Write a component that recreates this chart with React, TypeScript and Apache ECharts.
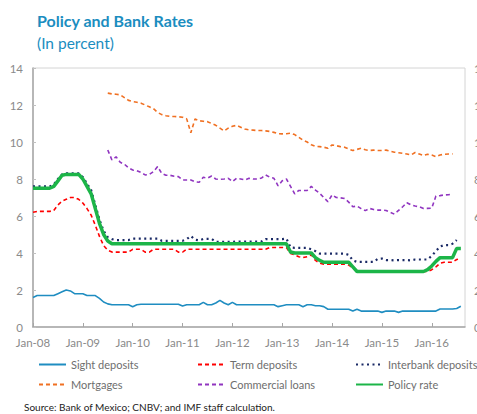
import React, { useEffect, useRef } from "react";
import * as echarts from "echarts";

const monthNames = ["Jan","Feb","Mar","Apr","May","Jun","Jul","Aug","Sep","Oct","Nov","Dec"];
const years = ["08","09","10","11","12","13","14","15","16"];
const categories: string[] = [];
years.forEach((y) => monthNames.forEach((m) => categories.push(`${m}-${y}`)));
categories.splice(105);

const sightDeposits = [
  1.6,1.7,1.7,1.7,1.7,1.7,1.8,1.9,2.0,1.95,1.8,1.8,
  1.8,1.7,1.7,1.7,1.55,1.35,1.25,1.2,1.2,1.2,1.2,1.2,
  1.1,1.2,1.23,1.23,1.23,1.23,1.23,1.23,1.23,1.23,1.23,1.23,
  1.13,1.2,1.2,1.2,1.2,1.33,1.2,1.2,1.3,1.44,1.3,1.2,
  1.33,1.2,1.2,1.2,1.2,1.2,1.2,1.2,1.2,1.2,1.2,1.1,
  1.15,1.2,1.2,1.2,1.2,1.1,1.2,1.2,1.15,1.15,1.1,0.96,
  0.96,0.96,0.96,0.96,0.96,0.86,0.96,0.86,0.86,0.86,0.86,0.86,
  0.79,0.86,0.86,0.86,0.79,0.86,0.86,0.86,0.86,0.86,0.86,0.86,
  0.86,0.86,0.97,0.97,0.97,0.97,1.0,1.12
];

const termDeposits = [
  6.2,6.25,6.25,6.25,6.25,6.3,6.6,6.8,6.9,7.0,7.0,6.9,
  6.7,6.4,6.05,5.5,4.9,4.4,4.15,4.05,4.05,4.05,4.05,4.05,
  4.2,4.2,4.2,4.05,4.05,4.2,4.2,4.2,4.2,4.2,4.2,4.05,
  4.05,4.2,4.2,4.2,4.2,4.2,4.2,4.2,4.2,4.2,4.2,4.2,
  4.2,4.2,4.2,4.2,4.2,4.2,4.2,4.2,4.2,4.3,4.3,4.3,
  4.3,4.3,3.97,3.9,3.8,3.75,3.8,3.9,3.6,3.45,3.4,3.4,
  3.4,3.4,3.4,3.4,3.35,3.2,3.0,3.0,3.0,3.0,3.0,3.0,
  3.0,3.0,3.0,3.0,3.0,3.0,3.0,3.0,3.0,3.0,3.0,3.0,
  3.1,3.25,3.45,3.5,3.5,3.5,3.65,3.7
];

const interbankDeposits = [
  7.6,7.6,7.6,7.6,7.6,7.7,8.0,8.25,8.3,8.3,8.3,8.3,
  8.1,7.75,7.4,6.6,5.8,5.2,4.85,4.75,4.7,4.7,4.7,4.7,
  4.78,4.78,4.78,4.78,4.78,4.78,4.78,4.66,4.66,4.66,4.66,4.66,
  4.66,4.75,4.92,4.72,4.68,4.76,4.76,4.76,4.6,4.6,4.6,4.6,
  4.6,4.62,4.62,4.62,4.62,4.62,4.62,4.62,4.75,4.75,4.75,4.75,
  4.75,4.78,4.3,4.28,4.28,4.28,4.28,4.2,4.1,3.97,3.97,3.97,
  3.97,3.97,3.97,3.97,3.9,3.6,3.52,3.52,3.52,3.52,3.52,3.68,
  3.7,3.62,3.62,3.6,3.62,3.62,3.62,3.6,3.65,3.65,3.65,3.65,
  3.85,4.1,4.35,4.43,4.43,4.5,4.7
];

const mortgagesStart = 18;
const mortgages = [
  12.64,12.6,12.58,12.55,12.4,12.25,
  12.19,12.15,12.1,12.0,11.9,11.8,11.6,11.48,11.42,11.38,11.38,11.36,
  11.34,11.25,10.5,11.24,11.15,11.12,11.1,11.0,10.9,10.75,10.6,10.75,
  10.85,10.9,10.8,10.7,10.66,10.64,10.62,10.62,10.6,10.57,10.52,10.45,
  10.44,10.45,10.48,10.4,10.25,10.1,10.0,9.85,9.76,9.75,9.72,9.66,
  9.84,9.8,9.75,9.72,9.62,9.54,9.6,9.66,9.58,9.54,9.56,9.54,
  9.54,9.56,9.5,9.45,9.42,9.39,9.35,9.3,9.43,9.35,9.27,9.34,
  9.3,9.21,9.3,9.34,9.35,9.36
];

const commercialStart = 18;
const commercialLoans = [
  9.57,9.03,9.2,8.9,8.8,8.6,
  8.49,8.45,8.35,8.22,8.25,8.4,8.67,8.3,8.2,8.2,8.15,8.13,
  7.95,7.95,7.95,7.85,7.82,8.09,8.05,8.16,8.0,7.98,8.0,8.04,
  7.86,8.04,8.0,7.95,8.04,8.0,8.0,8.05,8.22,8.1,8.04,7.63,
  7.9,8.0,7.6,7.2,7.38,7.38,7.38,7.6,7.4,7.23,7.0,6.77,
  7.14,7.0,6.98,6.95,6.75,6.5,6.54,6.4,6.29,6.41,6.35,6.32,
  6.32,6.3,6.2,6.1,6.3,6.5,6.72,6.6,6.54,6.5,6.41,6.41,
  6.42,7.08,7.1,7.14,7.15,7.19
];

const policyRate = [
  7.5,7.5,7.5,7.5,7.5,7.6,7.9,8.2,8.25,8.25,8.25,8.25,
  8.0,7.6,7.2,6.4,5.6,5.0,4.65,4.5,4.5,4.5,4.5,4.5,
  4.5,4.5,4.5,4.5,4.5,4.5,4.5,4.5,4.5,4.5,4.5,4.5,
  4.5,4.5,4.5,4.5,4.5,4.5,4.5,4.5,4.5,4.5,4.5,4.5,
  4.5,4.5,4.5,4.5,4.5,4.5,4.5,4.5,4.5,4.5,4.5,4.5,
  4.5,4.5,4.05,4.0,4.0,4.0,4.0,4.0,3.75,3.6,3.5,3.5,
  3.5,3.5,3.5,3.5,3.5,3.25,3.0,3.0,3.0,3.0,3.0,3.0,
  3.0,3.0,3.0,3.0,3.0,3.0,3.0,3.0,3.0,3.0,3.0,3.1,
  3.3,3.55,3.75,3.75,3.75,3.75,4.25,4.25
];

const yTicks = { min: 0, max: 14, interval: 2 };

const pad = (start: number, arr: number[]) => [...Array(start).fill(null), ...arr];

const FONT = "Lato, 'Noto Sans', sans-serif";

export default function App() {
  const ref = useRef<HTMLDivElement>(null);
  useEffect(() => {
    if (!ref.current) return;
    const chart = echarts.init(ref.current, null, { renderer: "svg" });
    const yearTick = (i: number) => i % 12 === 0;
    const legendText = { color: "#6e6e6e", fontSize: 11, fontFamily: FONT };
    const legendCommon = {
      orient: "vertical" as const,
      top: 359,
      padding: 0,
      itemWidth: 27,
      itemHeight: 10,
      itemGap: 9,
      textStyle: legendText,
      itemStyle: { opacity: 0 },
    };
    chart.setOption({
      animation: false,
      backgroundColor: "#ffffff",
      title: [
        {
          text: "Policy and Bank Rates",
          left: 37,
          top: 12,
          padding: 0,
          textStyle: { color: "#1b8dbf", fontSize: 16, fontWeight: "bold", fontFamily: FONT },
        },
        {
          text: "(In percent)",
          left: 37,
          top: 35,
          padding: 0,
          textStyle: { color: "#1b8dbf", fontSize: 15.5, fontWeight: "normal", fontFamily: FONT },
        },
        {
          text: "Source: Bank of Mexico; CNBV; and IMF staff calculation.",
          left: 24,
          top: 402,
          padding: 0,
          textStyle: { color: "#222222", fontSize: 10, fontWeight: "normal", fontFamily: FONT },
        },
      ],
      legend: [
        { ...legendCommon, left: 38, data: ["Sight deposits", "Mortgages"] },
        { ...legendCommon, left: 197, data: ["Term deposits", "Commercial loans"] },
        { ...legendCommon, left: 355, data: ["Interbank deposits", "Policy rate"] },
      ],
      grid: {
        left: 33,
        right: 12,
        top: 68,
        bottom: 87,
        show: true,
        borderColor: "#d4d4d4",
        borderWidth: 1,
        outerBoundsMode: "none",
        containLabel: false,
      },
      xAxis: {
        type: "category",
        data: categories,
        boundaryGap: false,
        axisLine: { lineStyle: { color: "#a6a6a6", width: 1.5 } },
        axisTick: { inside: true, length: 4, interval: yearTick, lineStyle: { color: "#a6a6a6" } },
        axisLabel: { interval: yearTick, color: "#8a8a8a", fontSize: 11.5, margin: 9, fontFamily: FONT },
        splitLine: { show: false },
      },
      yAxis: [
        {
          type: "value",
          ...yTicks,
          axisLine: { show: true, lineStyle: { color: "#a6a6a6", width: 1.5 } },
          axisTick: { show: true, inside: true, length: 3, lineStyle: { color: "#c0c0c0" } },
          axisLabel: { color: "#8a8a8a", fontSize: 11.5, margin: 10, fontFamily: FONT },
          splitLine: { show: false },
        },
        {
          type: "value",
          position: "right",
          ...yTicks,
          axisLine: { show: false },
          axisTick: { show: false },
          axisLabel: { color: "#8a8a8a", fontSize: 11.5, margin: 9, fontFamily: FONT },
          splitLine: { show: false },
        },
      ],
      series: [
        {
          name: "Sight deposits",
          type: "line",
          data: sightDeposits,
          symbol: "none",
          lineStyle: { color: "#1f8dc1", width: 1.6 },
          itemStyle: { color: "#1f8dc1" },
        },
        {
          name: "Term deposits",
          type: "line",
          data: termDeposits,
          symbol: "none",
          lineStyle: { color: "#ff0000", width: 1.6, type: [4, 3] },
          itemStyle: { color: "#ff0000" },
        },
        {
          name: "Interbank deposits",
          type: "line",
          data: interbankDeposits,
          symbol: "none",
          lineStyle: { color: "#1a2a66", width: 2.2, type: [2, 3.5] },
          itemStyle: { color: "#1a2a66" },
        },
        {
          name: "Mortgages",
          type: "line",
          data: pad(mortgagesStart, mortgages),
          symbol: "none",
          lineStyle: { color: "#f07022", width: 1.6, type: [4, 3] },
          itemStyle: { color: "#f07022" },
        },
        {
          name: "Commercial loans",
          type: "line",
          data: pad(commercialStart, commercialLoans),
          symbol: "none",
          lineStyle: { color: "#9035c0", width: 1.6, type: [4, 3] },
          itemStyle: { color: "#9035c0" },
        },
        {
          name: "Policy rate",
          type: "line",
          data: policyRate,
          symbol: "none",
          lineStyle: { color: "#1cb548", width: 3.5 },
          itemStyle: { color: "#1cb548" },
        },
      ],
    });
    return () => chart.dispose();
  }, []);
  return (
    <div
      ref={ref}
      style={{ position: "absolute", left: 0, top: 0, width: 477, height: 414 }}
    />
  );
}
